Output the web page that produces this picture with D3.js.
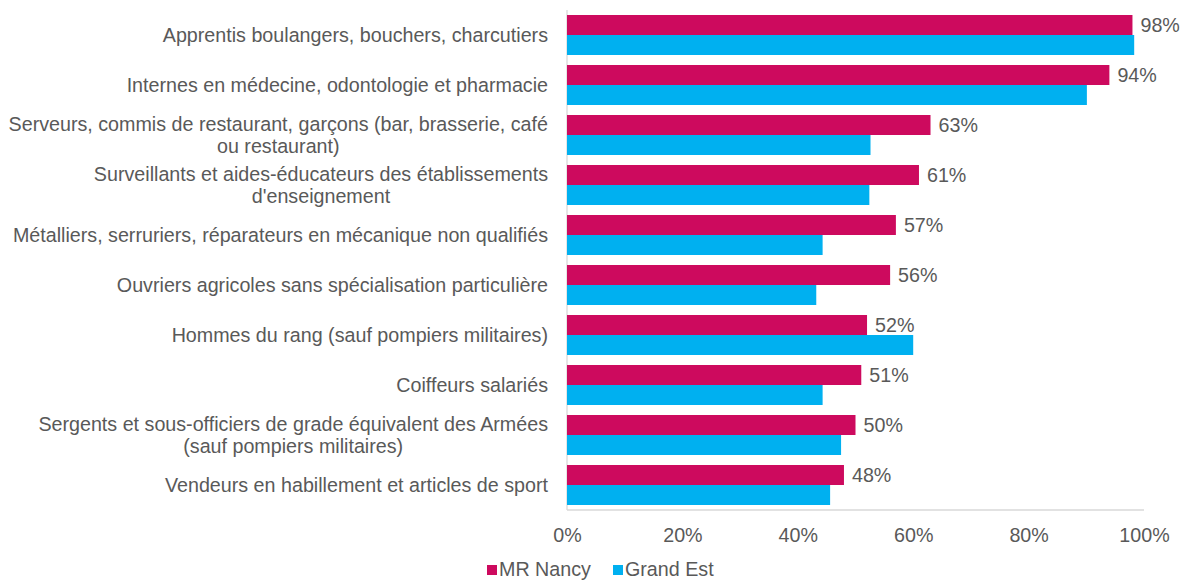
<!DOCTYPE html>
<html>
<head>
<meta charset="utf-8">
<script src="https://cdn.jsdelivr.net/npm/d3@7"></script>
<style>
body{margin:0;background:#fff;}
svg{font-family:"Liberation Sans",Arial,sans-serif;}
</style>
</head>
<body>
<div class="plot"></div>
<script>
var W = 1183, H = 580;
var m = {t:10, r:39, b:70, l:567};
var w = W - m.l - m.r, h = H - m.t - m.b;
var fs = '19.7px', txt = '#595959';

// categories (each entry = lines of the label)
var categories = [
	["Apprentis boulangers, bouchers, charcutiers"],
	["Internes en médecine, odontologie et pharmacie"],
	["Serveurs, commis de restaurant, garçons (bar, brasserie, café", "ou restaurant)"],
	["Surveillants et aides-éducateurs des établissements", "d'enseignement"],
	["Métalliers, serruriers, réparateurs en mécanique non qualifiés"],
	["Ouvriers agricoles sans spécialisation particulière"],
	["Hommes du rang (sauf pompiers militaires)"],
	["Coiffeurs salariés"],
	["Sergents et sous-officiers de grade équivalent des Armées", "(sauf pompiers militaires)"],
	["Vendeurs en habillement et articles de sport"]
];
var mrNancy = [98, 94, 63, 61, 57, 56, 52, 51, 50, 48];
var grandEst = [98.3, 90.1, 52.6, 52.4, 44.3, 43.2, 60.0, 44.3, 47.5, 45.6];
var xTicks = [0, 20, 40, 60, 80, 100];
var seriesNames = ["MR Nancy", "Grand Est"];
var colors = ["#cd0a5e", "#00b0f0"];

var svg = d3.select('.plot').append('svg')
	.attr('width', W).attr('height', H);

var g = svg.append('g').attr('transform', 'translate(' + m.l + ',' + m.t + ')');

var idx = d3.range(categories.length);
var x = d3.scaleLinear().domain([0, 100]).range([0, w]);
var y = d3.scaleBand().domain(idx).range([0, h]).paddingInner(0.2).paddingOuter(0.1);
var y1 = d3.scaleBand().domain([0, 1]).range([0, y.bandwidth()]);

// axis lines
g.append('line').attr('x1', 0).attr('x2', w).attr('y1', h).attr('y2', h)
	.attr('stroke', '#d9d9d9').attr('stroke-width', 1.3);
g.append('line').attr('x1', 0).attr('x2', 0).attr('y1', 0).attr('y2', h)
	.attr('stroke', '#d9d9d9').attr('stroke-width', 1.3);

// x tick labels
var xAxis = d3.axisBottom(x).tickValues(xTicks).tickFormat(function(d){ return d + '%'; }).tickSize(0).tickPadding(18);
var xg = g.append('g').attr('transform', 'translate(0,' + h + ')').call(xAxis);
xg.select('.domain').remove();
xg.selectAll('text').attr('fill', txt).style('font-size', fs).style('font-family', '"Liberation Sans",Arial,sans-serif');

// bars
var rows = g.selectAll('.row').data(idx).enter().append('g')
	.attr('class', 'row')
	.attr('transform', function(i){ return 'translate(0,' + y(i) + ')'; });

rows.append('rect')
	.attr('x', 0).attr('y', y1(0))
	.attr('width', function(i){ return x(mrNancy[i]); })
	.attr('height', y1.bandwidth())
	.attr('fill', colors[0]);

rows.append('rect')
	.attr('x', 0).attr('y', y1(1))
	.attr('width', function(i){ return x(grandEst[i]); })
	.attr('height', y1.bandwidth())
	.attr('fill', colors[1]);

// value labels
rows.append('text')
	.attr('x', function(i){ return x(mrNancy[i]) + 8; })
	.attr('y', y1(0) + y1.bandwidth() / 2)
	.attr('dy', '0.35em')
	.attr('fill', txt)
	.style('font-size', fs)
	.text(function(i){ return mrNancy[i] + '%'; });

// category labels, centred lines, block right-aligned
var labelRight = -19, lineH = 22;
var labels = svg.append('g').attr('transform', 'translate(' + m.l + ',' + m.t + ')')
	.selectAll('.cat').data(idx).enter().append('text')
	.attr('class', 'cat')
	.attr('fill', txt)
	.style('font-size', fs)
	.attr('text-anchor', 'middle');

labels.each(function(i){
	var t = d3.select(this);
	var lines = categories[i];
	var cy = y(i) + y.bandwidth() / 2;
	lines.forEach(function(s, k){
		t.append('tspan')
			.attr('y', cy + (k - (lines.length - 1) / 2) * lineH)
			.attr('dy', '0.35em')
			.text(s);
	});
	var maxW = 0;
	t.selectAll('tspan').each(function(){ maxW = Math.max(maxW, this.getComputedTextLength()); });
	t.selectAll('tspan').attr('x', labelRight - maxW / 2);
});

// legend
var leg = svg.append('g').attr('transform', 'translate(487,569)');
var legX = [0, 126];
seriesNames.forEach(function(n, k){
	var lg = leg.append('g').attr('transform', 'translate(' + legX[k] + ',0)');
	lg.append('rect').attr('x', 0).attr('y', -4).attr('width', 10).attr('height', 10).attr('fill', colors[k]);
	lg.append('text').attr('x', 12).attr('y', 0).attr('dy', '0.35em')
		.attr('fill', txt).style('font-size', fs).text(n);
});
</script>
</body>
</html>
